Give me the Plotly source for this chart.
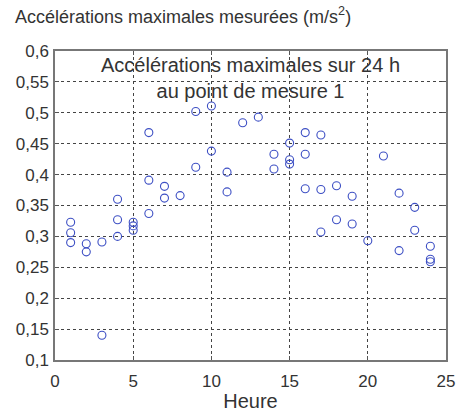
import plotly.graph_objects as go

# Maximum accelerations recorded over 24 h at measuring point 1
heures = [1, 1, 1, 2, 2, 3, 3, 4, 4, 4, 5, 5, 5, 6, 6, 6, 7, 7, 8,
          9, 9, 10, 10, 11, 11, 12, 13, 14, 14, 15, 15, 15, 16, 16, 16,
          17, 17, 17, 18, 18, 19, 19, 20, 21, 22, 22, 23, 23, 24, 24, 24]
accelerations = [0.323, 0.306, 0.290, 0.288, 0.275, 0.291, 0.140,
                 0.360, 0.327, 0.300, 0.323, 0.317, 0.310,
                 0.468, 0.391, 0.337, 0.381, 0.362, 0.366,
                 0.502, 0.412, 0.511, 0.438, 0.404, 0.372,
                 0.484, 0.493, 0.433, 0.409, 0.451, 0.424, 0.417,
                 0.468, 0.433, 0.377, 0.464, 0.376, 0.307,
                 0.382, 0.327, 0.365, 0.320, 0.293, 0.430,
                 0.370, 0.277, 0.347, 0.310, 0.284, 0.263, 0.259]

x_ticks = [0, 5, 10, 15, 20, 25]
y_ticks = [0.1, 0.15, 0.2, 0.25, 0.3, 0.35, 0.4, 0.45, 0.5, 0.55, 0.6]
y_labels = ["0,1", "0,15", "0,2", "0,25", "0,3", "0,35", "0,4", "0,45",
            "0,5", "0,55", "0,6"]

FONT = "Liberation Sans, Arial, sans-serif"
TXT = "#333333"

fig = go.Figure(go.Scatter(
    x=heures, y=accelerations, mode="markers",
    marker=dict(symbol="circle-open", size=8, color="#3d4fc4",
                line=dict(width=1.1, color="#3d4fc4")),
    hoverinfo="x+y", showlegend=False,
))

axis_common = dict(
    showline=True, linecolor="#777777", linewidth=1.5, mirror="ticks",
    ticks="inside", ticklen=4, tickcolor="#555555",
    showgrid=True, gridcolor="#444444", griddash="dot", gridwidth=1,
    zeroline=False, automargin=False,
    tickfont=dict(family=FONT, size=17, color=TXT),
)

fig.update_xaxes(range=[0, 25], tickvals=x_ticks, ticklabelstandoff=5,
                 title=dict(text="Heure", font=dict(family=FONT, size=20, color=TXT),
                            standoff=4),
                 **axis_common)
fig.update_yaxes(range=[0.1, 0.6], tickvals=y_ticks, ticktext=y_labels,
                 ticklabelstandoff=1, **axis_common)

fig.add_annotation(
    text="Accélérations maximales sur 24 h<br>au point de mesure 1",
    xref="x", yref="y", x=12.5, y=0.596, yanchor="top", xanchor="center",
    showarrow=False, align="center",
    font=dict(family=FONT, size=20, color=TXT),
    borderpad=0,
)
fig.add_annotation(
    text="Accélérations maximales mesurées (m/s<sup>2</sup>)",
    xref="paper", yref="paper", x=-0.108, y=1.07, xanchor="left", yanchor="bottom",
    showarrow=False, font=dict(family=FONT, size=18, color=TXT),
)

fig.update_layout(
    width=464, height=412,
    margin=dict(l=55, r=18, t=51, b=52),
    paper_bgcolor="white", plot_bgcolor="white",
    font=dict(family=FONT, color=TXT),
)

fig.write_html("out.html")
